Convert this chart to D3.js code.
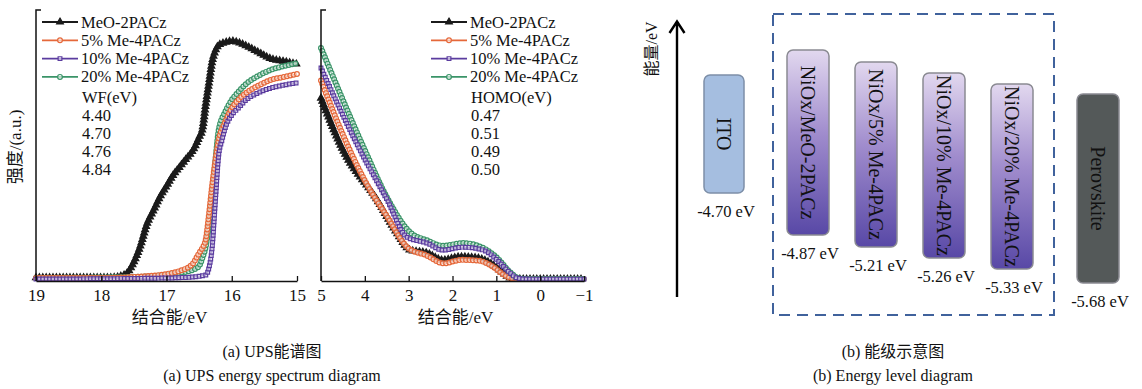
<!DOCTYPE html>
<html>
<head>
<meta charset="utf-8">
<script src="https://cdn.jsdelivr.net/npm/d3@7"></script>
<style>
  body { margin: 0; background: #fff; }
  text { font-family: "Liberation Serif", "Noto Sans CJK SC", serif; fill: #111; }
</style>
</head>
<body>
<div id="chart-area"></div>
<script>
const W = 1142, H = 389;

// (a) left: secondary electron cut-off region
const seriesNames = ["MeO-2PACz", "5% Me-4PACz", "10% Me-4PACz", "20% Me-4PACz"];
const wfValues = ["4.40", "4.70", "4.76", "4.84"];
const homoValues = ["0.47", "0.51", "0.49", "0.50"];

const cutE_meo = [19, 18.5, 18, 17.8, 17.7, 17.6, 17.5, 17.4, 17.3, 17.2, 17.1, 17.0, 16.9, 16.8, 16.7, 16.6, 16.5, 16.45, 16.4, 16.35, 16.3, 16.25, 16.2, 16.1, 16.0, 15.9, 15.8, 15.6, 15.4, 15.2, 15.0];
const cutI_meo = [1.2, 1.2, 1.2, 1.3, 1.8, 3, 7, 13, 21, 26, 31, 35, 39, 42, 45, 48, 53, 56, 65, 73, 81, 85, 87, 88, 88.5, 88, 87, 84.5, 82, 81, 80];
const cutE_5 = [19, 18, 17.5, 17, 16.8, 16.6, 16.5, 16.45, 16.4, 16.35, 16.3, 16.25, 16.2, 16.1, 16.0, 15.9, 15.8, 15.6, 15.4, 15.2, 15.0];
const cutI_5 = [1.1, 1.1, 1.5, 2.6, 3.7, 6.3, 10.3, 12.2, 15.1, 24.4, 35.4, 44.6, 52, 58.7, 63.8, 66.8, 69, 72, 74.2, 75.3, 76.4];
const cutE_10 = [19, 17, 16.6, 16.4, 16.35, 16.3, 16.25, 16.2, 16.15, 16.1, 16.0, 15.9, 15.8, 15.6, 15.4, 15.2, 15.0];
const cutI_10 = [0.7, 1.1, 1.5, 2.2, 4.8, 12.5, 29.9, 46.5, 52, 56.5, 61.3, 63.8, 66.4, 69.4, 71.2, 72.3, 73.1];
const cutE_20 = [19, 17.5, 17, 16.8, 16.6, 16.5, 16.45, 16.4, 16.35, 16.3, 16.25, 16.2, 16.1, 16.0, 15.9, 15.8, 15.6, 15.4, 15.2, 15.0];
const cutI_20 = [1.1, 1.5, 2.2, 3, 4.1, 5.5, 8.5, 12.5, 20.7, 31.7, 44.6, 55.7, 62.4, 66.8, 69.7, 72.3, 75.6, 77.9, 79.3, 80.4];

// (a) middle: valence band region
const vbE_meo = [5, 4.5, 3.72, 3.27, 2.97, 2.58, 2.22, 1.83, 1.44, 1.14, 0.85, 0.69, 0.4, -1];
const vbI_meo = [67.5, 48.3, 29.9, 17.7, 11.4, 10.3, 7.7, 8.9, 8.5, 6.6, 3.0, 1.1, 0.7, 0.7];
const vbE_5 = [5, 4.5, 4.0, 3.5, 3.0, 2.6, 2.2, 1.8, 1.4, 1.1, 0.8, 0.65, 0.4, -1];
const vbI_5 = [74, 54, 37, 24, 12, 9.5, 6.5, 7.8, 7.5, 5.5, 2, 1, 0.7, 0.7];
const vbE_10 = [5, 4.11, 3.49, 3.04, 2.58, 2.22, 1.76, 1.30, 0.98, 0.69, 0.53, 0.3, -1];
const vbI_10 = [78.6, 48.3, 29.9, 16.2, 14, 11.4, 12.5, 11.4, 7.7, 3, 1.1, 0.7, 0.7];
const vbE_20 = [5, 4.0, 3.5, 2.97, 2.58, 2.22, 1.76, 1.3, 0.98, 0.69, 0.5, 0.3, -1];
const vbI_20 = [86, 48.3, 31, 18, 15, 13, 14, 12.2, 8.5, 3.3, 1.1, 0.7, 0.7];

// (b) energy levels
const levelNames = ["ITO", "NiOx/MeO-2PACz", "NiOx/5% Me-4PACz", "NiOx/10% Me-4PACz", "NiOx/20% Me-4PACz", "Perovskite"];
const levelValues = [-4.70, -4.87, -5.21, -5.26, -5.33, -5.68];

const colors = ["#1b1b1b", "#e5683a", "#5b3c9f", "#3a9468"];
const shapes = [d3.symbolTriangle, d3.symbolCircle, d3.symbolSquare, d3.symbolCircle];

const svg = d3.select("#chart-area").append("svg").attr("width", W).attr("height", H);
svg.append("rect").attr("width", W).attr("height", H).attr("fill", "#fff");

const yI = d3.scaleLinear().domain([0, 100]).range([281, 10]);
const xL = d3.scaleLinear().domain([19, 15]).range([36, 297]);
const xM = d3.scaleLinear().domain([5, -1]).range([321, 584]);

function marker(g, k, x, y) {
    const size = k == 0 ? 20 : (k == 2 ? 14 : 18);
    g.append("path").attr("d", d3.symbol().type(shapes[k]).size(size)())
        .attr("transform", `translate(${x},${y})`)
        .attr("fill", k == 0 ? colors[0] : "#fff")
        .attr("fill-opacity", k == 0 ? 1 : 0.6)
        .attr("stroke", colors[k]).attr("stroke-width", 1.2);
}

function drawSeries(g, xs, ys, xScale, k) {
    const pts = xs.map((v, i) => [xScale(v), yI(ys[i])]);
    const line = d3.line().curve(d3.curveMonotoneX);
    const path = g.append("path").attr("d", line(pts)).attr("fill", "none")
        .attr("stroke", colors[k]).attr("stroke-width", 1.7);
    // markers placed along the drawn line
    const node = path.node(), L = node.getTotalLength();
    for (let s = 0; s <= L; s += 3.4) {
        const p = node.getPointAtLength(s);
        marker(g, k, p.x, p.y);
    }
}

function drawAxes(xScale, x0, x1, ticks) {
    const ax = svg.append("g").attr("transform", "translate(0,281)")
        .call(d3.axisBottom(xScale).tickValues(ticks).tickFormat(d3.format("d"))
            .tickSizeInner(-5).tickSizeOuter(0).tickPadding(8));
    ax.select(".domain").attr("stroke", "#111").attr("stroke-width", 1.5);
    ax.selectAll(".tick line").attr("stroke", "#111").attr("stroke-width", 1.3);
    ax.selectAll("text").attr("font-size", "17px").style("font-family", "Liberation Serif").attr("fill", "#111");
    svg.append("path").attr("d", `M${x0 + 5},10H${x0}V281`).attr("fill", "none")
        .attr("stroke", "#111").attr("stroke-width", 1.5);
    svg.append("text").attr("x", (x0 + x1) / 2 + 3).attr("y", 323).attr("text-anchor", "middle")
        .attr("font-size", "17px").text("结合能/eV");
}

const gL = svg.append("g");
drawSeries(gL, cutE_meo, cutI_meo, xL, 0);
drawSeries(gL, cutE_20, cutI_20, xL, 3);
drawSeries(gL, cutE_5, cutI_5, xL, 1);
drawSeries(gL, cutE_10, cutI_10, xL, 2);
drawAxes(xL, 36, 297, [19, 18, 17, 16, 15]);

const gM = svg.append("g");
drawSeries(gM, vbE_meo, vbI_meo, xM, 0);
drawSeries(gM, vbE_5, vbI_5, xM, 1);
drawSeries(gM, vbE_20, vbI_20, xM, 3);
drawSeries(gM, vbE_10, vbI_10, xM, 2);
drawAxes(xM, 321, 584, [5, 4, 3, 2, 1, 0, -1]);

svg.append("text").attr("transform", "translate(21,147) rotate(-90)").attr("text-anchor", "middle")
    .attr("font-size", "17px").text("强度/(a.u.)");

// legends
function legend(x, title, vals) {
    const g = svg.append("g");
    seriesNames.forEach((n, i) => {
        const y = 22 + i * 18.3;
        g.append("line").attr("x1", x).attr("x2", x + 36).attr("y1", y).attr("y2", y)
            .attr("stroke", colors[i]).attr("stroke-width", 1.8);
        marker(g, i, x + 18, y);
        g.append("text").attr("x", x + 39).attr("y", y + 5.5).attr("font-size", "16.5px").text(n);
    });
    [title].concat(vals).forEach((t, i) => {
        g.append("text").attr("x", x + 40).attr("y", 103 + i * 18).attr("font-size", "16.5px").text(t);
    });
}
legend(42, "WF(eV)", wfValues);
legend(431, "HOMO(eV)", homoValues);

// (b) energy-level diagram
svg.append("path").attr("d", "M677,297V22M669.5,33L677,21.5L684.5,33").attr("fill", "none")
    .attr("stroke", "#000").attr("stroke-width", 2.4);
svg.append("text").attr("transform", "translate(657,49) rotate(-90)").attr("text-anchor", "middle")
    .attr("font-size", "16px").text("能量/eV");
svg.append("rect").attr("x", 773).attr("y", 14).attr("width", 281).attr("height", 301)
    .attr("fill", "none").attr("stroke", "#40629c").attr("stroke-width", 2).attr("stroke-dasharray", "11,7");

const defs = svg.append("defs");
const grad = defs.append("linearGradient").attr("id", "niox").attr("x1", 0).attr("x2", 0).attr("y1", 0).attr("y2", 1);
grad.append("stop").attr("offset", "0%").attr("stop-color", "#e2d8ef");
grad.append("stop").attr("offset", "45%").attr("stop-color", "#a08ccd");
grad.append("stop").attr("offset", "100%").attr("stop-color", "#5848a6");

// schematic bottom edge of each level box
const yLevel = d3.scaleLinear().domain(levelValues).range([193, 235, 247, 258, 269, 283]);
const xInner = d3.scalePoint().domain(levelNames.slice(1, 5)).range([808, 1012]);
const levelX = n => n == "ITO" ? xInner(levelNames[1]) - 84 : (n == "Perovskite" ? xInner(levelNames[4]) + 86 : xInner(n));
const boxH = n => n == "ITO" ? 118 : (n == "Perovskite" ? 189 : 185);
const boxW = n => n == "ITO" ? 40 : 42;
const boxFill = n => n == "ITO" ? "#a5bee0" : (n == "Perovskite" ? "#545959" : "url(#niox)");

levelNames.forEach((n, i) => {
    const cx = levelX(n), yb = yLevel(levelValues[i]), h = boxH(n), w = boxW(n);
    svg.append("rect").attr("x", cx - w / 2).attr("y", yb - h).attr("width", w).attr("height", h)
        .attr("rx", 6).attr("fill", boxFill(n)).attr("stroke", n == "ITO" ? "#7d8fa8" : "#8a8a92").attr("stroke-width", 1.5);
    svg.append("text").attr("transform", `translate(${cx},${yb - h / 2}) rotate(90)`)
        .attr("text-anchor", "middle").attr("dominant-baseline", "central")
        .attr("font-size", "20px").attr("fill", "#111").text(n);
    svg.append("text").attr("x", cx + 2).attr("y", yb + 24).attr("text-anchor", "middle")
        .attr("font-size", "16.5px").text(levelValues[i].toFixed(2) + " eV");
});

// captions
[["(a) UPS能谱图", 272, 357], ["(a) UPS energy spectrum diagram", 272, 381],
 ["(b) 能级示意图", 893, 357], ["(b) Energy level diagram", 893, 381]].forEach(c => {
    svg.append("text").attr("x", c[1]).attr("y", c[2]).attr("text-anchor", "middle")
        .attr("font-size", "16px").text(c[0]);
});
</script>
</body>
</html>
